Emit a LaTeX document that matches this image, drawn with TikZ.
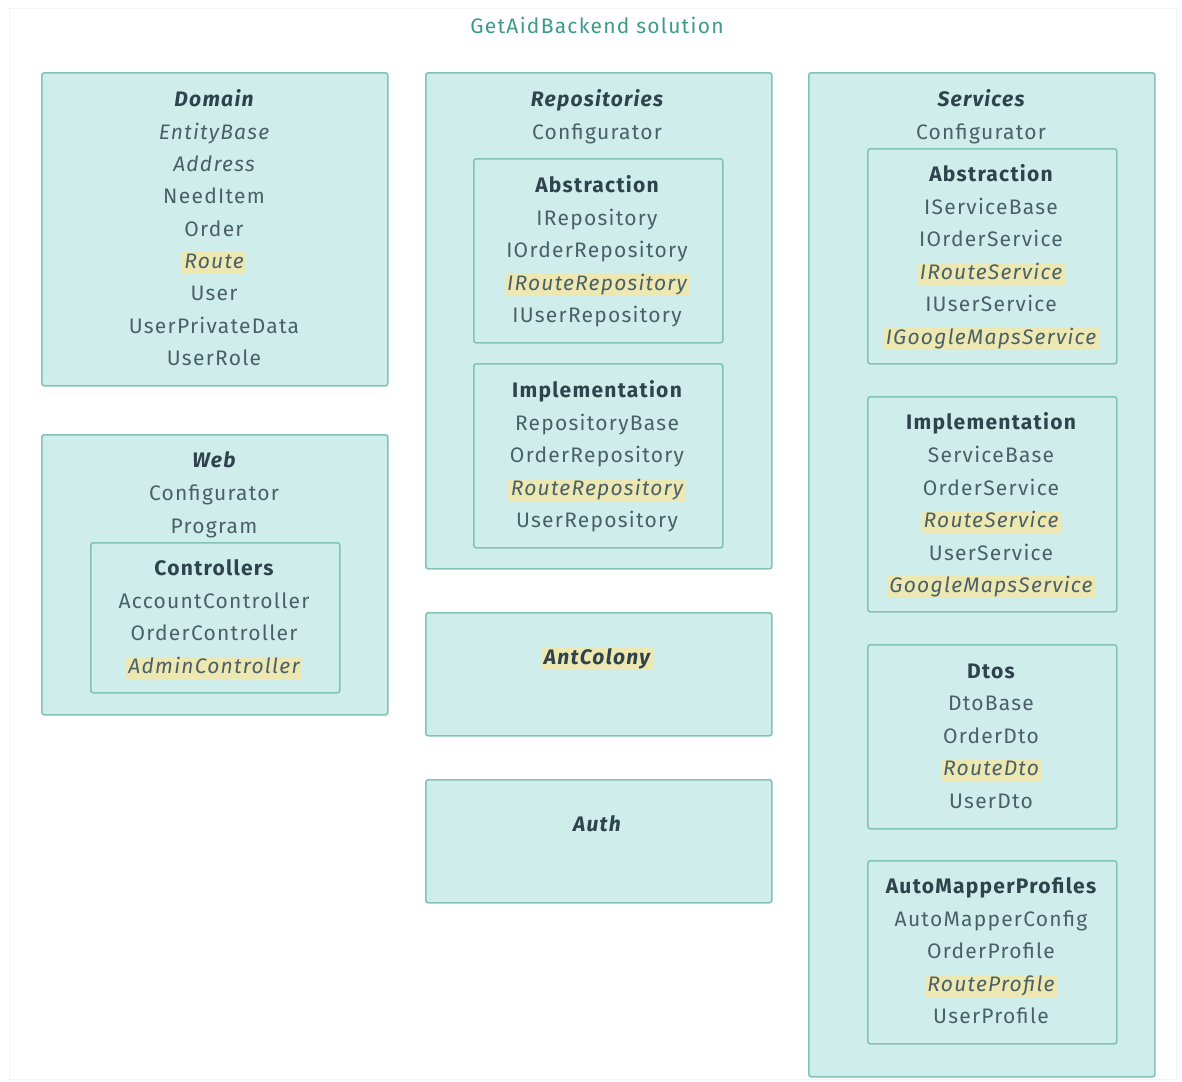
\documentclass[tikz,border=0pt]{standalone}
\usepackage{fontspec}
\setmainfont{Fira Sans}[LetterSpace=6]
\definecolor{boxfill}{HTML}{CFEDEB}
\definecolor{boxline}{HTML}{82C2B7}
\definecolor{ink}{HTML}{4A6068}
\definecolor{headink}{HTML}{2E434C}
\definecolor{titleink}{HTML}{3E9A8C}
\definecolor{hlfill}{HTML}{EDE8B2}
\definecolor{frame}{HTML}{F2F4F4}
\tikzset{
  box/.style={draw=boxline, fill=boxfill, line width=1.6pt, rounded corners=2.5pt, inner sep=0pt},
  item/.style={font=\fontsize{21}{24}\selectfont, text=ink, inner sep=1.5pt, text height=15pt, text depth=4pt},
  ital/.style={item, font=\fontsize{21}{24}\selectfont\itshape},
  head/.style={item, text=headink, font=\fontsize{21}{24}\selectfont\bfseries},
  bighead/.style={item, text=headink, font=\fontsize{21}{24}\selectfont\bfseries\itshape},
  hl/.style={fill=hlfill, inner xsep=2.5pt},
}
\newcommand\panel[5]{\node[box, anchor=north west, minimum width=#4, minimum height=#5] (#1) at (#2,#3) {};}
\begin{document}
\begin{tikzpicture}[x=1pt,y=-1pt]
\useasboundingbox (0,0) rectangle (1182,1081);
\fill[white] (0,0) rectangle (1182,1081);
\draw[frame, line width=1pt] (9,9) rectangle (1176,1079);

\node[font=\fontsize{21}{24}\selectfont, text=titleink] (title) at (597,25) {GetAidBackend solution};

% ---- Domain
\panel{domain}{41}{72}{346}{313}
\node[bighead] (dHead) at (214,101) {Domain};
\node[ital] (dEntity) at (214,134) {EntityBase};
\node[ital] (dAddress) at (214,166) {Address};
\node[item] (dNeed) at (214,198) {NeedItem};
\node[item] (dOrder) at (214,231) {Order};
\node[ital, hl] (dRoute) at (214,263) {Route};
\node[item] (dUser) at (214,295) {User};
\node[item] (dPrivate) at (214,328) {UserPrivateData};
\node[item] (dRole) at (214,360) {UserRole};

% ---- Web
\panel{web}{41}{434}{346}{280}
\node[bighead] (wHead) at (214,462) {Web};
\node[item] (wConf) at (214,495) {Configurator};
\node[item] (wProg) at (214,528) {Program};
\panel{ctrl}{90}{542}{249}{150}
\node[head] (cHead) at (214,570) {Controllers};
\node[item] (cAccount) at (214,603) {AccountController};
\node[item] (cOrder) at (214,635) {OrderController};
\node[ital, hl] (cAdmin) at (214,668) {AdminController};

% ---- Repositories
\panel{repo}{425}{72}{346}{496}
\node[bighead] (rHead) at (597,101) {Repositories};
\node[item] (rConf) at (597,134) {Configurator};
\panel{rabs}{473}{158}{249}{184}
\node[head] (raHead) at (597,187) {Abstraction};
\node[item] (raBase) at (597,220) {IRepository};
\node[item] (raOrder) at (597,252) {IOrderRepository};
\node[ital, hl] (raRoute) at (597,285) {IRouteRepository};
\node[item] (raUser) at (597,317) {IUserRepository};
\panel{rimp}{473}{363}{249}{184}
\node[head] (riHead) at (597,392) {Implementation};
\node[item] (riBase) at (597,425) {RepositoryBase};
\node[item] (riOrder) at (597,457) {OrderRepository};
\node[ital, hl] (riRoute) at (597,490) {RouteRepository};
\node[item] (riUser) at (597,522) {UserRepository};

% ---- AntColony and Auth
\panel{ant}{425}{612}{346}{123}
\node[bighead, hl] (antHead) at (597,659) {AntColony};
\panel{auth}{425}{779}{346}{123}
\node[bighead] (authHead) at (597,826) {Auth};

% ---- Services
\panel{serv}{808}{72}{346}{1004}
\node[bighead] (sHead) at (981,101) {Services};
\node[item] (sConf) at (981,134) {Configurator};
\panel{sabs}{867}{148}{249}{215}
\node[head] (saHead) at (991,176) {Abstraction};
\node[item] (saBase) at (991,209) {IServiceBase};
\node[item] (saOrder) at (991,241) {IOrderService};
\node[ital, hl] (saRoute) at (991,274) {IRouteService};
\node[item] (saUser) at (991,306) {IUserService};
\node[ital, hl] (saMaps) at (991,339) {IGoogleMapsService};
\panel{simp}{867}{396}{249}{215}
\node[head] (siHead) at (991,424) {Implementation};
\node[item] (siBase) at (991,457) {ServiceBase};
\node[item] (siOrder) at (991,490) {OrderService};
\node[ital, hl] (siRoute) at (991,522) {RouteService};
\node[item] (siUser) at (991,555) {UserService};
\node[ital, hl] (siMaps) at (991,587) {GoogleMapsService};
\panel{dtos}{867}{644}{249}{184}
\node[head] (dtHead) at (991,673) {Dtos};
\node[item] (dtBase) at (991,705) {DtoBase};
\node[item] (dtOrder) at (991,738) {OrderDto};
\node[ital, hl] (dtRoute) at (991,770) {RouteDto};
\node[item] (dtUser) at (991,803) {UserDto};
\panel{amp}{867}{860}{249}{183}
\node[head] (amHead) at (991,888) {AutoMapperProfiles};
\node[item] (amConf) at (991,921) {AutoMapperConfig};
\node[item] (amOrder) at (991,953) {OrderProfile};
\node[ital, hl] (amRoute) at (991,986) {RouteProfile};
\node[item] (amUser) at (991,1018) {UserProfile};
\end{tikzpicture}
\end{document}
